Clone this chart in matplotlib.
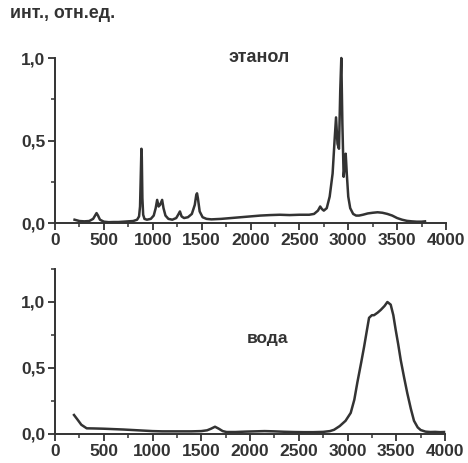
import matplotlib
matplotlib.use("Agg")
import matplotlib.pyplot as plt
from matplotlib.ticker import FixedLocator, FixedFormatter, MultipleLocator

# Ethanol spectrum
eth_x = [200, 250, 300, 350, 390, 410, 425, 440, 460, 500, 550, 600, 650, 700, 750, 800,
         840, 860, 870, 878, 884, 888, 894, 902, 915, 940, 980, 1010, 1030, 1045, 1060,
         1075, 1096, 1110, 1130, 1160, 1200, 1240, 1260, 1278, 1295, 1320, 1360, 1400,
         1430, 1445, 1453, 1462, 1480, 1510, 1550, 1600, 1700, 1800, 1900, 2000, 2100,
         2200, 2300, 2400, 2500, 2600, 2650, 2690, 2713, 2730, 2750, 2780, 2810, 2840,
         2860, 2875, 2890, 2905, 2918, 2929, 2940, 2953, 2965, 2974, 2985, 3000, 3020,
         3050, 3080, 3110, 3150, 3200, 3250, 3300, 3350, 3400, 3450, 3500, 3550, 3600,
         3650, 3700, 3750, 3785]
eth_y = [0.020, 0.012, 0.010, 0.012, 0.025, 0.045, 0.060, 0.045, 0.020, 0.008, 0.005,
         0.006, 0.006, 0.008, 0.010, 0.012, 0.020, 0.040, 0.100, 0.300, 0.450, 0.400,
         0.150, 0.050, 0.025, 0.020, 0.025, 0.045, 0.090, 0.140, 0.100, 0.110, 0.140,
         0.090, 0.045, 0.025, 0.020, 0.030, 0.050, 0.070, 0.040, 0.030, 0.035, 0.055,
         0.110, 0.170, 0.180, 0.150, 0.070, 0.035, 0.025, 0.022, 0.025, 0.030, 0.035,
         0.040, 0.045, 0.048, 0.050, 0.048, 0.050, 0.050, 0.055, 0.075, 0.100, 0.085,
         0.075, 0.090, 0.160, 0.300, 0.500, 0.640, 0.480, 0.450, 0.800, 1.000, 0.600,
         0.280, 0.350, 0.420, 0.300, 0.160, 0.090, 0.055, 0.045, 0.045, 0.050, 0.058,
         0.062, 0.065, 0.062, 0.055, 0.045, 0.030, 0.020, 0.013, 0.010, 0.008, 0.008,
         0.010]

# Water spectrum
wat_x = [195, 230, 270, 325, 400, 500, 600, 700, 800, 900, 1000, 1100, 1200, 1300, 1400,
         1500, 1560, 1600, 1641, 1680, 1720, 1760, 1850, 1950, 2050, 2150, 2250, 2350,
         2450, 2550, 2650, 2750, 2820, 2862, 2920, 2980, 3033, 3070, 3101, 3140, 3170,
         3200, 3221, 3250, 3272, 3310, 3341, 3380, 3409, 3443, 3470, 3494, 3520, 3546,
         3580, 3613, 3650, 3682, 3720, 3751, 3800, 3850, 3900, 3950, 3990]
wat_y = [0.144, 0.110, 0.070, 0.043, 0.042, 0.040, 0.037, 0.034, 0.030, 0.026, 0.022,
         0.020, 0.020, 0.020, 0.020, 0.022, 0.028, 0.040, 0.055, 0.040, 0.022, 0.015,
         0.015, 0.018, 0.020, 0.022, 0.020, 0.017, 0.015, 0.014, 0.014, 0.016, 0.022,
         0.032, 0.060, 0.100, 0.160, 0.260, 0.390, 0.540, 0.660, 0.790, 0.880, 0.900,
         0.900, 0.920, 0.940, 0.970, 1.000, 0.980, 0.900, 0.790, 0.680, 0.560, 0.430,
         0.310, 0.190, 0.100, 0.050, 0.030, 0.018, 0.015, 0.016, 0.014, 0.015]

x_ticks = [0, 500, 1000, 1500, 2000, 2500, 3000, 3500, 4000]
y_ticks = [0.0, 0.5, 1.0]
y_tick_labels = ["0,0", "0,5", "1,0"]

ylabel_text = "инт., отн.ед."
eth_label = "этанол"
wat_label = "вода"

C = "#333333"
plt.rcParams["font.family"] = ["Liberation Sans", "DejaVu Sans"]
plt.rcParams["font.weight"] = "bold"

W, H = 468, 463
fig = plt.figure(figsize=(W / 100, H / 100), dpi=100)
ax1 = fig.add_axes([55 / W, 1 - 223 / H, 391 / W, 165 / H])
ax2 = fig.add_axes([55 / W, 1 - 434 / H, 390 / W, 165 / H])

def style(ax, ytop):
    for s in ["top", "right"]:
        ax.spines[s].set_visible(False)
    for s in ["left", "bottom"]:
        ax.spines[s].set_color(C)
        ax.spines[s].set_linewidth(1.4)
    ax.set_xlim(0, 4000)
    ax.set_ylim(0, ytop)
    ax.xaxis.set_major_locator(FixedLocator(x_ticks))
    ax.xaxis.set_minor_locator(MultipleLocator(250))
    ax.yaxis.set_major_locator(FixedLocator(y_ticks))
    ax.yaxis.set_major_formatter(FixedFormatter(y_tick_labels))
    ax.yaxis.set_minor_locator(MultipleLocator(0.25))
    ax.tick_params(which="major", length=5, width=1.3, color=C, labelcolor=C,
                   labelsize=12.5, pad=2, direction="out")
    ax.tick_params(which="minor", length=3, width=1.1, color=C, direction="out")
    for lab in ax.get_xticklabels() + ax.get_yticklabels():
        lab.set_fontweight("bold")

style(ax1, 1.0)
style(ax2, 1.25)

ax1.plot(eth_x, eth_y, color=C, lw=1.8, clip_on=False)
ax2.plot(wat_x, wat_y, color=C, lw=1.8, clip_on=False)

fig.text(10 / W, 1 - 13 / H, ylabel_text, ha="left", va="center", fontsize=12.8,
         fontweight="bold", color=C)
fig.text(259 / W, 1 - 57 / H, eth_label, ha="center", va="center", fontsize=13,
         fontweight="bold", color=C)
fig.text(267 / W, 1 - 339 / H, wat_label, ha="center", va="center", fontsize=12.5,
         fontweight="bold", color=C)

fig.savefig("out.png", dpi=100, facecolor="white")
